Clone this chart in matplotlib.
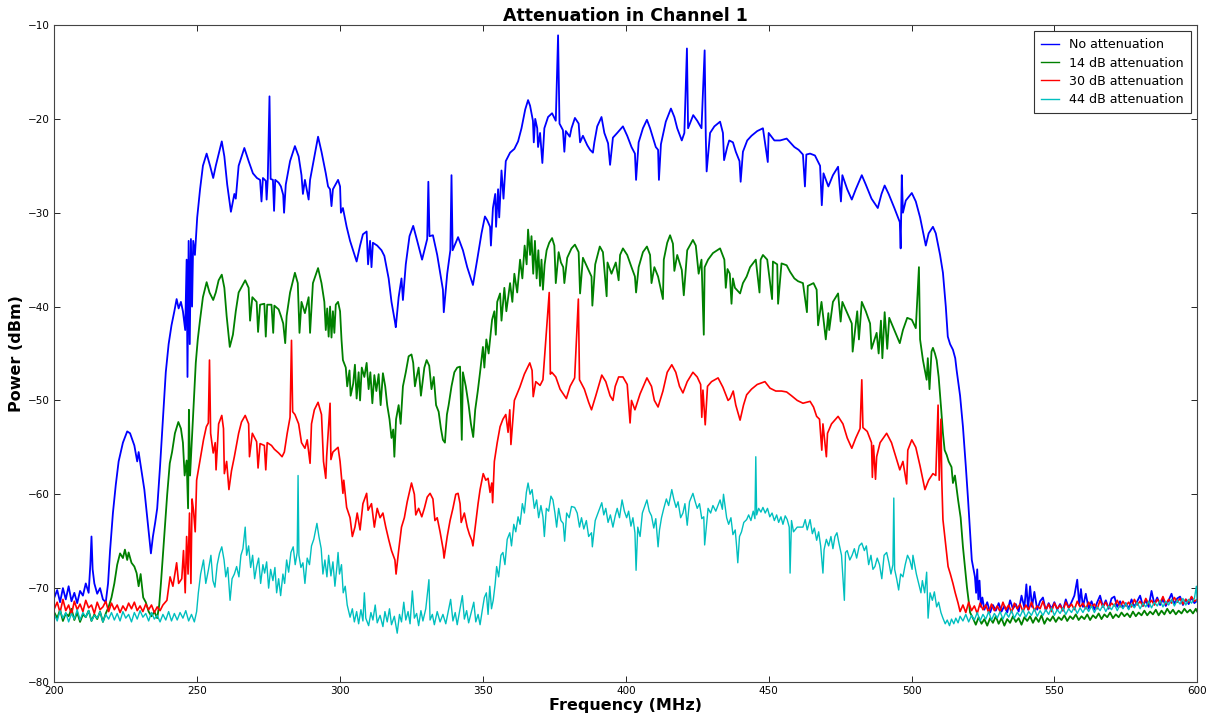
import numpy as np
import matplotlib
matplotlib.use("Agg")
import matplotlib.pyplot as plt

labels = ["No attenuation", "14 dB attenuation", "30 dB attenuation", "44 dB attenuation"]
colors = ["b", "g", "r", "c"]
widths = [1.3, 1.3, 1.2, 1.0]

# (frequency MHz, power dBm)
no_att = [
    (200, -71.0), (201, -70.2), (202, -71.5), (203, -70.0), (204, -71.2), (205, -69.8), (206, -71.4),
    (207, -70.5), (208, -71.6), (209, -70.3), (210, -70.8), (211, -69.5), (212, -70.5), (212.6, -67.5),
    (213, -64.5), (213.4, -68), (214, -69.5), (215, -70.6), (216, -70.0), (217, -71.2), (218, -71.5),
    (218.8, -69.5), (219.5, -66), (220.5, -62), (221.5, -59), (222.5, -56.5), (224, -54.5), (225.5, -53.3),
    (226.5, -53.5), (228, -54.8), (229, -56.5), (229.5, -55.5), (230.5, -57.5), (231.5, -59.5),
    (232.5, -62.5), (233.2, -64.5), (233.8, -66.3), (234.5, -64.5), (235.3, -63), (236, -61.5), (237, -57),
    (238, -52), (239, -47), (240, -44), (241, -42), (242, -40.5), (242.8, -39.2), (243.5, -40.2),
    (244.3, -39.5), (245, -40.5), (245.8, -42.5), (246.3, -35), (246.6, -47.5), (247, -33), (247.4, -44),
    (247.8, -32.8), (248.2, -40), (248.6, -33), (249.2, -34.5), (250, -30.5), (251, -27.5), (252, -25),
    (253.3, -23.7), (254.5, -25), (255.6, -26.3), (256.5, -25), (258.6, -22.4), (259.5, -24), (260.5, -27),
    (261.8, -29.9), (263, -28), (263.5, -28.5), (264.5, -25), (266.5, -23.1), (268, -24.5), (269.5, -25.8),
    (270.9, -26.3), (272, -26.5), (272.5, -28.8), (273, -26.3), (274, -26.6), (274.3, -28.6), (274.7, -26.4),
    (275.3, -17.6), (275.7, -26.4), (276.5, -26.5), (276.9, -29.8), (277.3, -26.5), (278.5, -26.8),
    (279.3, -27.2), (280.1, -28.1), (280.4, -30), (281, -27), (282.5, -24.5), (284.2, -22.9), (285.5, -24),
    (286.5, -26), (287, -28), (287.7, -26.5), (289, -28.6), (289.5, -26.5), (292.3, -21.9), (293.5, -23.5),
    (295, -25.8), (295.8, -27.2), (296.5, -27.5), (297, -29.3), (297.5, -27.5), (299.3, -26.5), (300, -27.2),
    (300.3, -30), (301, -29.5), (302.3, -31.5), (303.5, -33), (305.8, -35.2), (307, -33.5), (308, -32.3),
    (309.3, -32), (309.8, -35.5), (310.5, -33), (311, -35.8), (311.5, -33.2), (313, -33.5), (314.5, -34),
    (315.5, -34.6), (317, -37), (318, -39.5), (319.2, -41.6), (319.5, -42.2), (320.5, -39), (321.5, -37),
    (322, -39.3), (323, -35.5), (324.3, -32.5), (325.6, -31.4), (327, -33), (328.7, -35), (329.5, -34),
    (330.5, -32.8), (330.9, -26.7), (331.3, -32.5), (332.5, -32.4), (334, -34.5), (336, -38.2),
    (336.3, -40.6), (337.5, -36.5), (338.6, -34), (339, -26), (339.4, -34), (341.3, -32.6), (343, -34),
    (344.5, -35.8), (346.5, -37.7), (348, -35), (349.5, -32.2), (350.7, -30.4), (351.5, -30.8),
    (352.5, -31.5), (352.8, -33.5), (353.5, -29.5), (354.3, -28), (354.6, -31.5), (355.3, -27.5),
    (355.7, -30.5), (356.5, -25.5), (357.2, -28.5), (358, -24.5), (359.5, -23.6), (361, -23.2),
    (362.3, -22.4), (363.5, -21), (364.8, -19), (365.8, -18), (366.5, -18.6), (367.5, -20.2), (367.8, -22.5),
    (368.3, -20), (369, -21), (369.3, -23), (370, -21.5), (370.8, -24.7), (371.5, -21), (372.8, -19.8),
    (374.2, -19.4), (375.5, -20.2), (376.3, -11.1), (376.8, -20.5), (378, -21.2), (378.5, -23.5),
    (379, -21.3), (380.4, -21.9), (381, -21), (382.2, -19.9), (383.5, -20.5), (384, -22.5), (385, -21.8),
    (386.5, -22.8), (387.5, -23.3), (388.5, -23.6), (389, -22.5), (390, -20.8), (391.5, -19.8),
    (392.5, -21.5), (393.8, -22.6), (394.5, -24.9), (395.5, -22), (397, -21.5), (399, -20.8), (400.5, -21.8),
    (402, -23), (403.2, -23.7), (403.6, -26.5), (404.5, -22.5), (406, -21), (407.4, -20.1), (408.5, -21),
    (409.8, -22.3), (410.5, -23), (411.3, -23.3), (411.6, -26.5), (412.3, -22.7), (414, -20.3),
    (415.8, -18.9), (417, -19.8), (418, -21), (419.6, -22.3), (420.5, -21.5), (421.4, -12.5), (421.8, -21),
    (423.6, -19.6), (425, -20.2), (426.5, -21), (427.6, -12.7), (428, -21.9), (428.3, -25.6), (429.5, -21.5),
    (431, -20.8), (433, -20.3), (434, -21.5), (434.4, -24.4), (435.5, -23), (436.2, -22.3), (437.5, -22.5),
    (438.5, -23.5), (439.8, -24.5), (440.2, -26.7), (441, -23.5), (442.5, -22.3), (444, -21.8),
    (446, -21.3), (448, -21), (449.7, -24.6), (450, -21.5), (452, -22.3), (454, -22.3), (456.3, -22.1),
    (457.5, -22.5), (459, -23), (460.5, -23.3), (462, -23.8), (462.7, -27.2), (463.2, -23.8), (464.5, -23.7),
    (466.2, -23.9), (468, -25), (468.6, -29.2), (469.2, -25.8), (470.9, -27.2), (472.5, -26), (474.3, -25.1),
    (475.3, -28.8), (475.8, -26), (477.5, -27.5), (479.1, -28.6), (480.5, -27.5), (482.6, -26), (484, -27),
    (486, -28.5), (488.2, -29.5), (489.5, -28), (490.6, -27.1), (492, -28), (494, -29.5), (495.9, -31),
    (496.2, -33.8), (496.6, -26), (497, -30), (498, -28.7), (500.1, -27.9), (501.5, -28.8), (503, -30.5),
    (505, -33.5), (506, -32.2), (507.5, -31.5), (508.5, -32.2), (510, -34.5), (511, -36.4), (512, -40),
    (512.7, -43.2), (513.5, -44), (514.5, -44.6), (515.3, -45.5), (515.8, -46.8), (517, -49.5),
    (518, -52.8), (519, -57), (519.8, -60.6), (520.5, -64), (521.1, -67), (522.2, -68.8), (522.6, -70.5),
    (523, -68), (523.4, -71.2), (523.8, -69.2), (524.3, -72), (524.8, -71), (525.5, -72.3), (526.5, -71.5),
    (527.5, -72.6), (528.5, -71.8), (529.5, -72.4), (530.5, -71.6), (531.5, -72.5), (532.5, -71.9),
    (533.5, -72.6), (534.5, -71.3), (535.5, -72.2), (536.5, -71.7), (537.5, -72.5), (538.5, -70.8),
    (539.5, -72.1), (540.2, -69.6), (540.8, -72.3), (541.5, -69.8), (542.2, -72), (543, -70.4),
    (544, -72.3), (545, -71.4), (546, -71), (547, -72.4), (548, -71.6), (549, -72.2), (550, -71.5),
    (551, -72.3), (552, -71.7), (553, -72.4), (554, -71.2), (555, -72.1), (556, -71.5), (557, -70.8),
    (558, -69.1), (558.7, -71.8), (559.3, -70.1), (560, -72), (561, -70.6), (562, -72.2), (563, -71.4),
    (564, -72.3), (565, -71.5), (566, -70.8), (567, -72), (568, -71.3), (569, -72.2), (570, -71.1),
    (571, -70.9), (572, -72), (573, -71.4), (574, -72.1), (575, -71.6), (576, -72.2), (577, -71.2),
    (578, -72), (579, -71.4), (580, -70.8), (581, -71.9), (582, -71.3), (583, -72), (584, -70.3),
    (585, -71.7), (586, -71), (587, -71.8), (588, -71.2), (589, -71.9), (590, -71.3), (591, -70.6),
    (592, -71.7), (593, -71.1), (594, -70.9), (595, -71.8), (596, -71.2), (597, -71.7), (598, -71),
    (599, -71.6), (600, -71.3),
]

att_14 = [
    (200, -72.6), (201, -73.2), (202, -72.3), (203, -73.5), (204, -72.7), (205, -73.0), (206, -72.2),
    (207, -73.4), (208, -72.6), (209, -73.6), (210, -72.8), (211, -73.1), (212, -72.4), (213, -73.5),
    (214, -72.8), (215, -73.3), (216, -72.5), (217, -73.6), (218, -72.7), (219, -72.0), (220, -71.0),
    (221, -69.5), (222, -67.5), (223, -66.3), (224, -66.8), (224.7, -65.9), (225.5, -67), (226, -66.2),
    (227, -67.3), (228, -67.7), (228.8, -68.4), (229.5, -69.8), (230.2, -68.5), (231.1, -71), (232, -71.5),
    (233, -72.5), (234, -73), (235, -72.5), (236, -73.2), (236.7, -71.8), (237.3, -69.5), (238, -66.5),
    (238.7, -63.5), (239.5, -60), (240.4, -56.7), (241.2, -55.5), (242.2, -53.5), (243.4, -52.3),
    (244.3, -53), (245, -54.5), (245.6, -58), (246.3, -56.4), (246.8, -61.5), (247.1, -51), (247.5, -58),
    (248.5, -52), (249.5, -46), (250.2, -43.5), (251, -41.4), (252, -39), (253.3, -37.4), (254.3, -38.5),
    (255.6, -39.3), (256.5, -38.5), (257.5, -37.2), (258.6, -36.6), (259.5, -38), (260.3, -41),
    (261.4, -44.3), (262.5, -43), (263.5, -40.5), (264.5, -38.5), (266.8, -37.2), (268, -38), (268.5, -41.5),
    (269.3, -39), (270.8, -39.5), (271.3, -42.7), (272, -39.8), (273.5, -39.7), (274, -43.2), (274.5, -39.8),
    (276, -39.8), (276.6, -42.8), (277, -39.9), (278.5, -40.3), (279.3, -41), (280.1, -41.8), (280.8, -43.9),
    (281.3, -41), (282.5, -38.5), (284.2, -36.4), (285.2, -37.5), (285.8, -42.8), (286.5, -39.5),
    (287.7, -40.7), (289, -39), (289.5, -42.8), (290.5, -37.5), (292.3, -35.9), (293.5, -37.5),
    (294.5, -39.5), (295, -42.5), (295.5, -40.2), (296, -43.2), (296.5, -40), (297, -43.3), (297.5, -40.5),
    (298, -42.8), (298.5, -39.8), (299.3, -39.5), (300, -40.5), (300.5, -43.5), (301, -45.7), (302, -46.5),
    (302.5, -48.5), (303.3, -46.8), (303.7, -49.5), (304.6, -48.2), (305.2, -46.2), (305.8, -49.8),
    (306.5, -47), (307, -50), (307.6, -46.5), (308.5, -47.5), (309.3, -46), (310, -48.8), (310.6, -47),
    (311.3, -50.3), (312, -47.3), (312.7, -49), (313.5, -47.2), (314.2, -50.5), (315, -47.1),
    (315.8, -48.5), (316.5, -50.5), (317.3, -52), (318, -54), (318.6, -53.1), (319, -56), (319.6, -52),
    (320.5, -50.5), (321.2, -52.5), (322, -48.5), (323, -47), (324, -45.3), (325, -45.1), (325.6, -46),
    (326.2, -48.5), (326.8, -47.5), (327.5, -46.5), (328.3, -49.5), (329.5, -46.5), (330.3, -45.7),
    (331.2, -46.3), (332, -48.8), (332.8, -47.5), (333.6, -50.5), (334.5, -51.2), (335.3, -53),
    (336, -54.2), (336.7, -54.5), (337.4, -51.5), (338, -50.5), (339, -48.5), (340, -47), (341, -46.5),
    (342, -46.4), (342.6, -54.2), (343, -47), (344, -48.5), (345, -50.5), (345.8, -52.5), (346.6, -53.9),
    (347.3, -51), (348.2, -49), (349, -47), (350, -44.3), (350.5, -46.5), (351.2, -43.5), (352, -45),
    (353.2, -41.4), (354, -40.5), (354.5, -43), (355, -39.5), (356, -38.6), (356.5, -41.5), (357.5, -38),
    (358.2, -40.5), (359.5, -37.5), (360.3, -39.5), (361, -36.5), (362, -38.5), (363, -35), (363.8, -37),
    (364.6, -33.5), (365.3, -35.5), (365.8, -31.8), (366.5, -34.5), (367, -32.5), (367.6, -36.5),
    (368.2, -33), (368.8, -37), (369.4, -34), (370, -37.8), (370.5, -35), (371, -38.2), (371.6, -35.5),
    (372.3, -34), (373.2, -33.2), (374.2, -32.7), (375, -33.5), (375.5, -37.5), (376.5, -34.2),
    (377.3, -35.3), (378.1, -35.8), (378.5, -37.5), (379.5, -34.8), (381, -33.8), (382.2, -33.4),
    (383.5, -34.2), (384, -38.6), (385, -34.8), (386.5, -35.8), (388, -36.8), (388.3, -39.9),
    (389.3, -35.5), (390.9, -33.6), (392, -34.2), (393.3, -38.9), (393.6, -35.3), (395, -36.5),
    (396.5, -35.3), (397.5, -37.2), (398, -34.5), (399, -33.8), (400.5, -34.5), (402, -35.8),
    (403.2, -36.8), (403.6, -38.5), (404.5, -35.8), (406, -34.2), (407.4, -33.6), (408.5, -34.5),
    (409, -37.5), (410, -35.8), (411.3, -36.8), (413, -39.2), (413.3, -35), (414.5, -33.2), (415.5, -32.4),
    (416.5, -33.3), (417, -36.2), (418, -34.5), (419.6, -36.1), (420.3, -38.8), (421.5, -34),
    (423.5, -32.9), (424.5, -33.5), (425.5, -36.5), (426.5, -35), (427.3, -43), (427.6, -35.8),
    (428.8, -35), (430.5, -34.3), (433, -33.8), (434.5, -35), (435, -38), (435.6, -36), (436.4, -36.5),
    (437, -39.7), (437.5, -37), (438.2, -38), (440, -38.6), (441, -37.5), (442.3, -36.8), (443.5, -35.8),
    (445.5, -35), (446.8, -38.5), (447.2, -35), (448, -34.5), (449.5, -35), (451.2, -39.2), (451.5, -35.2),
    (453, -35.5), (453.3, -39.7), (454.5, -35.4), (456.3, -35.6), (457.5, -36.3), (459, -37),
    (460.3, -37.3), (462, -37.5), (463.4, -40.6), (463.7, -37.8), (465.7, -37.5), (466.8, -38.2),
    (467.3, -42), (468.5, -39.5), (470, -43.5), (470.9, -40.7), (471.2, -42.5), (472.5, -39.5),
    (474.3, -38.6), (475.2, -41.6), (475.8, -39.5), (477.5, -40.7), (479.1, -41.8), (479.4, -44.8),
    (481, -40.5), (481.6, -43.5), (482.6, -39.5), (484, -40.5), (485.5, -41.8), (486, -44.5),
    (487.8, -42.8), (488.5, -45), (489.3, -41.5), (489.8, -45.5), (490.6, -40.6), (491.5, -44.5),
    (492.2, -41.2), (494, -42.5), (495.9, -43.9), (497, -42.5), (498.5, -41.2), (500.1, -41.4),
    (501.5, -42.3), (502.6, -35.8), (503, -43.5), (504, -45.7), (505.3, -47.8), (505.7, -45.5),
    (506.3, -48.8), (507, -44.8), (507.5, -44.4), (508.2, -45), (508.8, -45.7), (509.5, -47.5),
    (510.4, -51), (511, -53.5), (511.6, -55.3), (512.3, -55.8), (513, -56.5), (514, -57.1), (514.5, -58.8),
    (515.2, -58), (516.3, -60.6), (517.2, -62.5), (518, -65.6), (518.8, -68), (519.4, -69.9),
    (520.5, -72.6), (521.5, -73.2), (522.5, -73.9), (523.5, -73.1), (524.5, -73.8), (525.5, -73.3),
    (526.5, -74), (527.5, -73.2), (528.5, -73.7), (529.5, -73), (530.5, -73.8), (531.5, -73.2),
    (532.5, -74), (533.5, -73.3), (534.5, -73.7), (535.5, -73), (536.5, -73.6), (537.5, -73.2),
    (538.5, -73.9), (539.5, -73.1), (540.5, -73.5), (541.5, -73), (542.5, -73.7), (543.5, -73.1),
    (544.5, -73.6), (545.5, -72.9), (546.5, -73.8), (547.5, -73.2), (548.5, -73.5), (549.5, -73),
    (550.5, -73.6), (551.5, -73.1), (552.5, -73.4), (553.5, -72.9), (554.5, -73.5), (555.5, -73),
    (556.5, -73.3), (557.5, -72.8), (558.5, -73.4), (559.5, -73), (560.5, -73.3), (561.5, -72.8),
    (562.5, -73.4), (563.5, -72.9), (564.5, -73.2), (565.5, -72.7), (566.5, -73.3), (567.5, -72.8),
    (568.5, -73.1), (569.5, -72.6), (570.5, -73.2), (571.5, -72.8), (572.5, -73.1), (573.5, -72.6),
    (574.5, -73), (575.5, -72.7), (576.5, -73.1), (577.5, -72.5), (578.5, -73), (579.5, -72.6),
    (580.5, -72.9), (581.5, -72.4), (582.5, -72.9), (583.5, -72.5), (584.5, -72.8), (585.5, -72.3),
    (586.5, -72.9), (587.5, -72.4), (588.5, -72.8), (589.5, -72.2), (590.5, -72.7), (591.5, -72.3),
    (592.5, -72.8), (593.5, -72.4), (594.5, -72.7), (595.5, -72.2), (596.5, -72.6), (597.5, -72.3),
    (598.5, -72.7), (599.5, -72.2), (600, -72.5),
]

att_30 = [
    (200, -72.2), (201, -71.5), (202, -72.6), (203, -71.2), (204, -72.4), (205, -71.8), (206, -72.8),
    (207, -71.4), (208, -72.3), (209, -71.7), (210, -72.5), (211, -71.3), (212, -72.1), (213, -71.8),
    (214, -72.7), (215, -71.5), (216, -72.3), (217, -72.0), (218, -71.4), (219, -72.5), (220, -71.6),
    (221, -72.3), (222, -71.8), (223, -72.6), (224, -71.9), (225, -72.4), (226, -71.6), (227, -72.2),
    (228, -71.5), (229, -72.4), (230, -71.9), (231, -72.5), (232, -71.7), (233, -72.3), (234, -71.8),
    (235, -72.6), (236, -72.0), (237, -72.4), (238, -71.8), (239.4, -71.3), (240.5, -68.8), (241.5, -69.8),
    (242.8, -67.3), (243.5, -69.5), (244.6, -69), (245.2, -66), (245.8, -70.5), (246.3, -64.5),
    (246.8, -68.5), (247.3, -62), (247.8, -69.5), (248.2, -60.5), (248.7, -61.7), (249.3, -64),
    (249.8, -58.5), (250.4, -57.4), (251.2, -56), (252.2, -54.2), (253.2, -52.8), (253.9, -52.4),
    (254.3, -45.7), (254.7, -53.5), (255.6, -55.6), (256.3, -54.5), (256.6, -57.4), (257.5, -52.5),
    (258.6, -51.6), (259.2, -53), (259.5, -57.8), (260.3, -56.5), (261.1, -59.5), (262, -57.5), (263, -56),
    (264.5, -53.5), (265.5, -52.3), (266.8, -51.6), (268, -52.5), (268.3, -56), (269.3, -53.5),
    (270.8, -54.4), (271.3, -57.2), (272, -54.6), (273.5, -54.8), (274, -57.4), (274.5, -54.5),
    (276, -54.8), (277, -55.2), (278.5, -55.6), (279.7, -56), (280.5, -55.5), (281.5, -53.5),
    (282.5, -51.8), (283, -43.6), (283.4, -51.2), (284.2, -51.5), (285.5, -52.5), (286.5, -54.5),
    (287.7, -55.1), (288.5, -54.2), (289.5, -56.7), (290, -52.5), (291, -51), (292.3, -50.2),
    (293.5, -51.5), (294.2, -56.5), (295, -58.3), (295.3, -56), (296.5, -50.3), (296.8, -56.3),
    (297.5, -55.5), (299.3, -55), (300, -56.5), (301, -59.9), (301.3, -58.5), (302.3, -61.4),
    (303.5, -62.5), (304.3, -64.5), (305.2, -63.5), (306, -62), (307, -63.8), (308, -61), (309.3, -59.9),
    (309.8, -61.7), (311, -61), (312, -63.5), (313, -61.5), (314, -62.5), (315, -62), (316, -63.5),
    (317, -64.8), (318, -66), (319.2, -67), (319.6, -68.5), (320.5, -66), (321.5, -63.5), (322.5, -62.5),
    (323.5, -60.8), (325, -58.8), (326, -60), (326.5, -62.2), (327.5, -61.5), (328.6, -62.4),
    (329.5, -61.5), (330.5, -60.3), (331.5, -59.9), (332.5, -60.5), (333.2, -62.8), (334, -62.5),
    (335, -64), (336.1, -65.9), (336.4, -66.8), (337.5, -64.5), (338.5, -62.8), (339.5, -61.5),
    (340.5, -60), (341.3, -59.9), (342, -61), (342.4, -63), (343.5, -62), (344.5, -63.5), (345.3, -64.3),
    (346.1, -64.9), (346.5, -65.5), (347.3, -63.5), (348.3, -61), (349, -59.5), (350.1, -57.8),
    (351, -58.5), (351.8, -58.3), (352.5, -59.8), (353.1, -58.8), (353.4, -60.9), (354, -56.5),
    (355, -54.5), (356, -52.8), (357, -52), (358, -51.5), (358.8, -53.4), (359.4, -51), (359.8, -54.7),
    (361, -50), (362.9, -48.6), (364.5, -47.2), (366.4, -46), (367.2, -46.8), (367.6, -49.6), (368.5, -48),
    (370, -48.4), (371, -47.8), (373.2, -38.5), (373.6, -47.2), (374.1, -47), (375.5, -47.5), (377, -48.8),
    (379.2, -49.8), (380.5, -48.5), (382.1, -47.6), (383.4, -39.2), (383.8, -47.8), (385.5, -48.8),
    (387, -50.2), (388, -51), (389.5, -49.5), (391.6, -47.3), (393, -48), (394.5, -49.5), (395.5, -50),
    (396.3, -48.5), (397.5, -47.5), (399, -47.5), (400.5, -48.3), (401.5, -52.4), (402, -50),
    (403.2, -51), (405, -49.3), (407.4, -47.6), (409, -48.5), (410, -50), (411.3, -50.7), (413, -49),
    (414.5, -47), (416.1, -46.2), (417.5, -47), (418.8, -48.5), (420, -49.2), (421.5, -48), (423.5, -47),
    (425, -47.5), (426.2, -48.3), (426.6, -51.8), (427, -48.9), (427.8, -52.6), (428.6, -48.5),
    (430, -48), (432.3, -47.6), (434, -48.6), (435.8, -50), (436.5, -49.8), (437.6, -49), (438.5, -50.5),
    (440, -52.1), (441.2, -50.5), (442.3, -49.4), (444, -48.8), (446, -48.3), (448.7, -48), (450.5, -48.7),
    (452.5, -49), (454.5, -49), (456.3, -49.1), (458, -49.5), (460, -50), (462, -50.3), (464.5, -50.1),
    (465.7, -50.7), (466.8, -51.7), (467.8, -52), (468.6, -55.3), (469, -52.5), (470.2, -56), (470.6, -53.5),
    (472, -52.5), (474.3, -51.7), (476, -52.5), (477.5, -54), (479.1, -55.1), (480.5, -54), (482, -53),
    (482.6, -47.8), (483, -52.9), (484.5, -53.3), (486, -54.5), (486.3, -58.2), (486.7, -54.8),
    (487.4, -58.4), (487.8, -56), (489, -54.5), (491.3, -53.5), (493, -54.5), (494.5, -56), (495.9, -57.4),
    (497, -56.5), (498.3, -58.9), (498.7, -55.3), (500.1, -54.2), (501.5, -55), (503, -57), (504.7, -59.5),
    (506, -58.5), (507.5, -57.8), (508.5, -58), (509.3, -50.5), (509.7, -58.5), (510.3, -52),
    (510.6, -58.6), (511, -62.7), (512, -65.5), (512.8, -67.7), (513.6, -68.5), (514.5, -69.5),
    (515.3, -70.5), (516.3, -71.6), (517, -72.5), (518, -71.8), (519, -72.6), (520, -71.5), (521, -72.4),
    (522, -71.9), (523, -72.7), (524, -71.6), (525, -72.3), (526, -71.8), (527, -72.6), (528, -71.7),
    (529, -72.4), (530, -71.9), (531, -72.5), (532, -71.5), (533, -72.3), (534, -71.8), (535, -72.6),
    (536, -71.6), (537, -72.2), (538, -71.7), (539, -72.5), (540, -71.8), (541, -72.3), (542, -71.5),
    (543, -72.4), (544, -71.9), (545, -72.2), (546, -71.4), (547, -72.3), (548, -71.7), (549, -72.5),
    (550, -71.6), (551, -72.2), (552, -71.8), (553, -72.4), (554, -71.5), (555, -72.1), (556, -71.7),
    (557, -72.3), (558, -71.4), (559, -72), (560, -71.6), (561, -72.2), (562, -71.5), (563, -72),
    (564, -71.7), (565, -72.2), (566, -71.3), (567, -72), (568, -71.5), (569, -72.1), (570, -71.6),
    (571, -71.9), (572, -71.3), (573, -72), (574, -71.4), (575, -71.9), (576, -71.5), (577, -72),
    (578, -71.2), (579, -71.8), (580, -71.4), (581, -71.9), (582, -71.1), (583, -71.7), (584, -71.3),
    (585, -71.8), (586, -71.2), (587, -71.6), (588, -70.9), (589, -71.7), (590, -71.2), (591, -71.6),
    (592, -71), (593, -71.5), (594, -71.1), (595, -71.7), (596, -71.2), (597, -71.5), (598, -70.9),
    (599, -71.4), (600, -71.2),
]

att_44 = [
    (200, -72.8), (201, -73.5), (202, -72.4), (203, -73.2), (204, -72.6), (205, -73.6), (206, -72.7),
    (207, -73.3), (208, -72.3), (209, -73.4), (210, -72.6), (211, -73.1), (212, -72.4), (213, -73.5),
    (214, -72.9), (215, -73.2), (216, -72.5), (217, -73.6), (218, -72.8), (219, -73.3), (220, -72.6),
    (221, -73.4), (222, -72.7), (223, -73.5), (224, -72.5), (225, -73.2), (226, -72.8), (227, -73.6),
    (228, -72.6), (229, -73.3), (230, -72.4), (231, -73.1), (232, -72.7), (233, -73.5), (234, -72.6),
    (235, -73.3), (236, -72.9), (237, -73.6), (238, -72.8), (239, -73.4), (240, -72.5), (241, -73.5),
    (242, -72.7), (243, -73.4), (244, -72.6), (245, -73.2), (246, -72.4), (247, -73.5), (248, -72.8),
    (249, -73.6), (249.8, -72.5), (250.4, -70.5), (251.2, -68.5), (252.2, -67), (253, -69.5),
    (253.9, -68.1), (254.8, -66.5), (255.5, -69.2), (256.2, -69.9), (257, -67.5), (257.8, -66.3),
    (258.6, -65.6), (259.4, -67), (260, -68.8), (260.7, -67.8), (261.5, -71.3), (262.2, -69), (263, -68.5),
    (263.8, -67.7), (264.6, -68.8), (265.3, -66.5), (266, -65.8), (266.8, -63.5), (267.3, -66.5),
    (268, -65.5), (268.7, -67.8), (269.4, -66.5), (270.1, -69), (270.8, -67.7), (271.5, -66.8),
    (272.2, -69.5), (273, -67.5), (273.6, -68.4), (274.3, -67.2), (275, -70), (275.7, -68), (276.5, -69.2),
    (277.2, -67.8), (277.8, -70.5), (278.5, -69), (279.2, -70.8), (280, -68.5), (280.6, -69.5),
    (281.3, -67), (282, -68.3), (282.8, -66.2), (283.6, -65.6), (284.3, -67.5), (285, -66.2), (285.3, -58),
    (285.6, -66.5), (286.3, -67.8), (287, -67.3), (287.7, -69.5), (288.5, -66.8), (289.3, -67.5),
    (290, -65.5), (290.8, -64.8), (291.9, -63.1), (292.6, -64.5), (293.4, -65.8), (294, -68.5),
    (294.7, -67), (295.4, -68.8), (296, -66.5), (296.8, -68.7), (297.5, -67.2), (298.2, -69.8),
    (298.9, -67.7), (299.3, -66.2), (299.8, -68.5), (300.5, -67.5), (301.1, -70.5), (301.8, -69.8),
    (302.5, -71.8), (303.5, -73.1), (304.3, -72.2), (305, -73.6), (305.8, -72.5), (306.5, -73.8),
    (307.3, -72.3), (308, -73.5), (308.5, -70.5), (309, -73.2), (310, -74), (310.8, -72.6), (311.5, -73.4),
    (312.3, -71.8), (313, -73.7), (314, -72.9), (315, -74.1), (315.7, -72.5), (316.5, -73.6),
    (317.3, -72.2), (318, -73.9), (319, -73), (320, -74.8), (320.8, -72.8), (321.5, -73.6), (322.3, -71.5),
    (323, -73.4), (323.8, -72.5), (324.5, -73.8), (325.3, -70.3), (326, -73.2), (326.8, -72.7),
    (327.5, -74), (328.3, -72.4), (329, -73.5), (330, -72.2), (331.1, -69.1), (331.5, -73.4),
    (332.3, -72.8), (333, -73.9), (334, -72.5), (335, -73.6), (336, -72.8), (337, -73.8), (338, -72.3),
    (338.7, -71.2), (339.5, -73.5), (340.3, -72.6), (341, -73.9), (342, -72.2), (342.8, -70.8),
    (343.5, -73.3), (344.3, -72.4), (345, -73.7), (346, -72.5), (346.8, -71.5), (347.5, -73.6),
    (348.3, -72.8), (349, -73.9), (349.8, -72.3), (350.5, -71), (351.2, -70.5), (351.8, -72.8),
    (352.4, -69.8), (353, -72.2), (353.6, -71.3), (354.3, -69.5), (354.8, -67.7), (355.5, -68.8),
    (356.3, -66.5), (357, -66.2), (357.7, -67.5), (358.5, -64.8), (359.4, -64.1), (360, -65.5),
    (360.8, -63.2), (361.5, -64), (362.3, -62.4), (363, -63.2), (363.8, -61), (364.5, -62), (365.2, -59.8),
    (365.8, -58.8), (366.5, -60), (367.2, -59.5), (368, -61.5), (368.8, -60.6), (369.5, -62.5),
    (370.3, -61.2), (371, -62.4), (371.5, -64.5), (372.2, -61.5), (373, -61.8), (373.8, -60.2),
    (374.5, -60.6), (375.2, -62), (375.8, -63.5), (376.5, -61.5), (377.3, -62.8), (378.1, -63.1),
    (378.6, -65), (379.3, -62), (380.2, -62.5), (381, -61.3), (382.1, -61.4), (383, -62), (383.8, -63.5),
    (384.5, -62.5), (385.3, -63.7), (386.2, -62.8), (387, -64.5), (388, -64.1), (388.3, -65.6),
    (389.3, -62.8), (390.5, -61.8), (391.6, -60.9), (392.3, -62.2), (393, -61.5), (393.8, -63),
    (394.6, -62.2), (395.5, -63.5), (396.3, -62.3), (397, -61.5), (397.8, -62.5), (398.7, -60.6),
    (399.5, -61.8), (400.3, -62.5), (401, -61.8), (401.8, -63.4), (402.5, -62.5), (403.2, -64.1),
    (403.6, -68.1), (404.2, -63.5), (405, -64.5), (405.8, -62), (406.6, -61.3), (407.4, -60.6),
    (408.2, -61.8), (409, -62.3), (409.8, -63.6), (410.5, -62.6), (411.3, -65.6), (411.8, -63.8),
    (412.5, -62.5), (413.3, -61.5), (414.2, -60.5), (415, -61.2), (416.1, -59.5), (416.8, -60.5),
    (417.6, -61.4), (418.3, -60.8), (419.2, -62.5), (420, -62), (420.7, -61), (421.5, -63.3), (422.3, -60.8),
    (423.5, -59.9), (424.3, -60.8), (425, -61.5), (425.8, -61), (426.6, -62.6), (427.3, -62.4),
    (427.6, -65.4), (428.8, -61.5), (429.7, -62), (430.5, -61.2), (431.5, -61.8), (433, -60.6),
    (433.8, -61.6), (434.2, -60), (435.3, -62.5), (436, -63.2), (436.8, -62.5), (437.5, -64.3),
    (438.3, -63.8), (438.8, -65.6), (439.2, -67.3), (439.8, -64.5), (440.5, -64), (441.3, -63),
    (442.3, -62.7), (443, -62.2), (443.8, -62.8), (444.6, -61.8), (445.2, -62.6), (445.5, -56),
    (445.8, -62.2), (446.5, -61.5), (447.3, -61.9), (448, -61.4), (448.8, -62), (449.6, -61.5),
    (450.4, -62.4), (451.2, -62), (452, -62.8), (452.8, -62.2), (453.5, -63), (454.3, -62.4), (455, -63.2),
    (455.8, -62.3), (456.5, -62.7), (457.2, -63.5), (457.5, -68.4), (458, -62.8), (458.7, -64),
    (460, -63.5), (461, -63.5), (462, -63.5), (462.8, -62.7), (463.5, -63.8), (464.5, -62.7),
    (465.3, -64.2), (466, -63.6), (466.8, -64.9), (467.5, -64), (468.2, -65.5), (469, -68.4),
    (469.4, -65.9), (470.2, -64.8), (471, -65.5), (471.8, -64.5), (472.5, -65.8), (473.2, -64.5),
    (473.9, -64.1), (474.6, -65.2), (475.5, -66.5), (476.5, -71.3), (476.9, -66.2), (477.5, -66),
    (478.4, -67), (479.2, -66.5), (480, -65.8), (480.8, -66.8), (481.7, -65.5), (482.6, -65.2),
    (483.5, -66), (484.2, -65.5), (485, -67.5), (485.8, -66.5), (486.5, -68), (487.2, -67.7), (488, -66.8),
    (488.8, -67.5), (489.6, -69), (490.4, -66.5), (491.3, -66.2), (492.1, -67.3), (492.8, -68.5),
    (493.5, -67.5), (493.8, -60.4), (494.1, -68), (494.8, -69), (495.5, -70.2), (496.2, -68.5),
    (497, -68.8), (497.8, -67.5), (498.6, -66.5), (499.4, -67), (500.2, -68), (500.5, -66.5),
    (501.7, -68.5), (502.5, -69.5), (503.3, -70.5), (503.8, -69.2), (504.6, -70.5), (505.3, -68.3),
    (505.8, -73.2), (506.5, -70.5), (507.3, -71.3), (508, -70.4), (508.8, -72), (509.5, -71.5),
    (510.3, -72.6), (511, -73.2), (511.8, -73.8), (512.5, -73.4), (513.3, -74), (514, -73.3),
    (514.8, -73.8), (515.5, -73.2), (516.3, -73.7), (517, -73), (518, -73.5), (519, -72.8), (520, -73.6),
    (521, -72.9), (522, -73.4), (523, -72.6), (524, -73.5), (525, -72.8), (526, -73.3), (527, -72.5),
    (528, -73.4), (529, -72.7), (530, -73.2), (531, -72.5), (532, -73.3), (533, -72.6), (534, -73.1),
    (535, -72.4), (536, -73.2), (537, -72.6), (538, -73), (539, -72.3), (540, -73.1), (541, -72.5),
    (542, -72.9), (543, -72.2), (544, -73), (545, -72.4), (546, -72.9), (547, -72.3), (548, -72.8),
    (549, -72.1), (550, -72.9), (551, -72.3), (552, -72.7), (553, -72.1), (554, -72.8), (555, -72.2),
    (556, -72.6), (557, -72), (558, -72.7), (559, -72.1), (560, -72.6), (561, -72), (562, -72.5),
    (563, -71.9), (564, -72.6), (565, -72), (566, -72.4), (567, -71.8), (568, -72.5), (569, -71.9),
    (570, -72.3), (571, -71.7), (572, -72.4), (573, -71.8), (574, -72.2), (575, -71.6), (576, -72.3),
    (577, -71.7), (578, -72.1), (579, -71.5), (580, -72.2), (581, -71.6), (582, -72), (583, -71.4),
    (584, -72.1), (585, -71.5), (586, -71.9), (587, -71.3), (588, -72), (589, -71.4), (590, -71.8),
    (591, -71.2), (592, -71.9), (593, -71.3), (594, -71.7), (595, -71.1), (596, -71.8), (597, -71.2),
    (598, -71.6), (599, -71.1), (599.7, -69.8), (600, -71.5),
]

series = [no_att, att_14, att_30, att_44]

fig = plt.figure(figsize=(12.13, 7.19), dpi=100)
ax = fig.add_axes([0.0448, 0.0515, 0.9422, 0.9137])

for data, lab, col, lw in zip(series, labels, colors, widths):
    arr = np.array(data)
    ax.plot(arr[:, 0], arr[:, 1], color=col, lw=lw, label=lab)

ax.set_xlim(200, 600)
ax.set_ylim(-80, -10)
ax.set_xticks(np.arange(200, 601, 50))
ax.set_yticks(np.arange(-80, -9, 10))
ax.tick_params(direction="in", top=True, right=True, labelsize=7.5, length=4, width=0.6, pad=3)
for sp in ax.spines.values():
    sp.set_linewidth(0.8)
    sp.set_color("#444444")

ax.set_title("Attenuation in Channel 1", fontsize=12.5, fontweight="bold", pad=3)
ax.set_xlabel("Frequency (MHz)", fontsize=11.5, fontweight="bold", labelpad=1)
ax.set_ylabel("Power (dBm)", fontsize=11.5, fontweight="bold", labelpad=3)

leg = ax.legend(loc="upper right", fontsize=9.1, handlelength=1.45, handletextpad=0.8,
                fancybox=False, framealpha=1, borderaxespad=0.5, borderpad=0.55,
                labelspacing=0.42)
leg.get_frame().set_edgecolor("#333333")
leg.get_frame().set_linewidth(0.8)
for line in leg.get_lines():
    line.set_linewidth(1.0)

fig.savefig("out.png", dpi=100)
